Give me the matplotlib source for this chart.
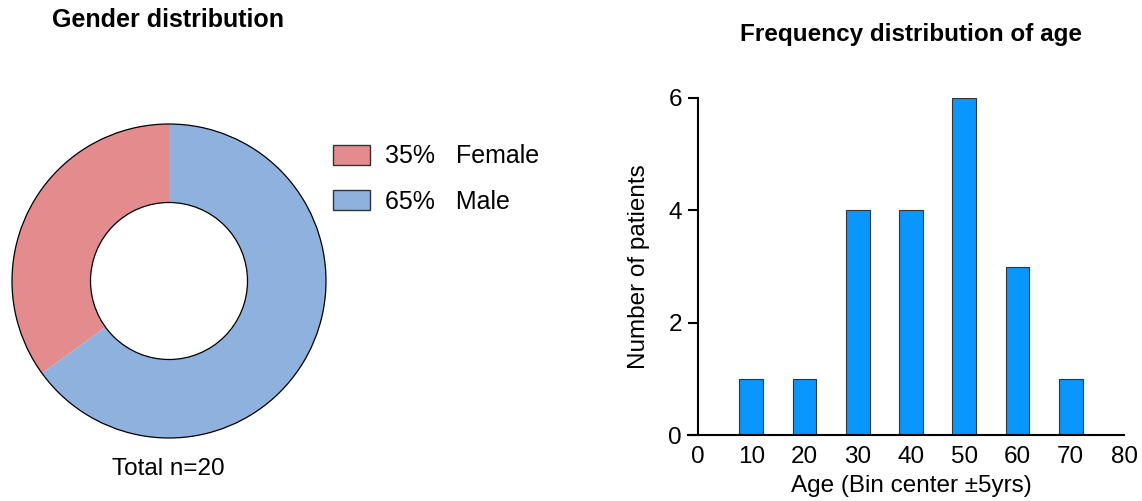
import matplotlib
matplotlib.use("Agg")
import matplotlib.pyplot as plt
from matplotlib.patches import Circle, Rectangle

plt.rcParams['font.family'] = ['Liberation Sans', 'DejaVu Sans']

# ---- data ----
gender_labels = ["Female", "Male"]
gender_counts = [7, 13]
gender_colors = ["#E48C8D", "#8FB1DE"]

age_centers = [10, 20, 30, 40, 50, 60, 70]
age_counts = [1, 1, 4, 4, 6, 3, 1]
x_ticks = [0, 10, 20, 30, 40, 50, 60, 70, 80]
y_ticks = [0, 2, 4, 6]

W, H = 1142, 501
fig = plt.figure(figsize=(W / 100, H / 100), dpi=100)
FS = 17.5

def fx(px):
    return px / W

def fy(py):
    return 1 - py / H

# ---- donut ----
cx, cy, R = 169, 281, 157
ext = 1.05
axp = fig.add_axes([fx(cx - R * ext), fy(cy + R * ext), 2 * R * ext / W, 2 * R * ext / H])
total = sum(gender_counts)
wedges, _ = axp.pie(gender_counts, colors=gender_colors, startangle=90, counterclock=True,
                    radius=1.0, wedgeprops=dict(width=0.5, edgecolor='none', linewidth=0))
axp.add_patch(Circle((0, 0), 1.0, fill=False, edgecolor='black', linewidth=0.9))
axp.add_patch(Circle((0, 0), 0.5, fill=False, edgecolor='black', linewidth=0.9))
axp.set_xlim(-ext, ext)
axp.set_ylim(-ext, ext)
axp.set_aspect('equal')
axp.axis('off')

# legend (manual)
for i, (lab, cnt, col) in enumerate(zip(gender_labels, gender_counts, gender_colors)):
    yc = 155 + 45 * i
    fig.patches.append(Rectangle((fx(333), fy(yc + 10)), 37 / W, 20 / H, transform=fig.transFigure,
                                 facecolor=col, edgecolor='#333333', linewidth=1.0))
    fig.text(fx(385), fy(yc + 1.5), f"{round(100 * cnt / total)}%   {lab}", fontsize=18,
             ha='left', va='center')

fig.text(fx(52), fy(20), "Gender distribution", fontsize=18, fontweight='bold', ha='left', va='center')
fig.text(fx(168), fy(469), f"Total n={total}", fontsize=FS, ha='center', va='center')

# ---- histogram ----
x0, x1, yb, yt = 698, 1124, 435, 98
ax = fig.add_axes([fx(x0), fy(yb), (x1 - x0) / W, (yb - yt) / H])
ax.bar(age_centers, age_counts, width=4.5, color='#0896FF', edgecolor='#333333', linewidth=0.8)
ax.set_xlim(0, 80)
ax.set_ylim(0, 6)
ax.set_xticks(x_ticks)
ax.set_yticks(y_ticks)
for s in ['top', 'right']:
    ax.spines[s].set_visible(False)
for s in ['left', 'bottom']:
    ax.spines[s].set_linewidth(1.5)
ax.tick_params(axis='y', length=7.5, width=1.5, pad=4, labelsize=FS, direction='out')
ax.tick_params(axis='x', length=0, pad=8, labelsize=FS)
ax.set_xlabel("Age (Bin center ±5yrs)", fontsize=FS)
ax.set_ylabel("Number of patients", fontsize=FS)
ax.xaxis.set_label_coords(0.5, -0.118)
ax.yaxis.set_label_coords(-0.112, 0.5)
ax.spines['bottom'].set_bounds(-1.8, 80)
ax.spines['bottom'].set_clip_on(False)

fig.text(fx(911), fy(35), "Frequency distribution of age", fontsize=FS, fontweight='bold',
         ha='center', va='center')

fig.savefig("out.png", dpi=100)
